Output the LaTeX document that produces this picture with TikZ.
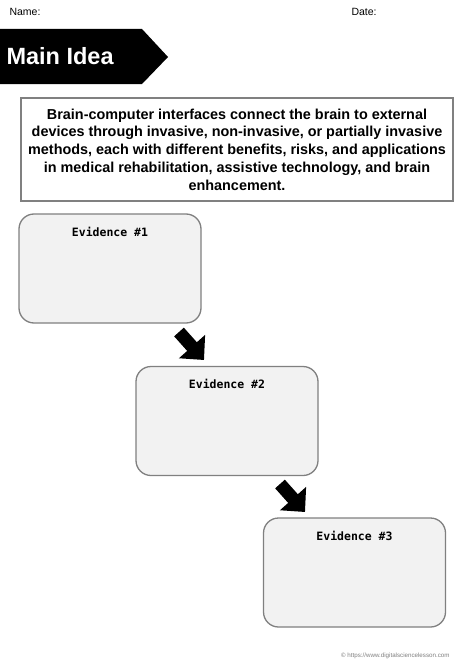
\documentclass[tikz,border=0pt]{standalone}
\usepackage{fontspec}
\setmainfont{Liberation Sans}
\setmonofont{DejaVu Sans Mono}
\usetikzlibrary{positioning,arrows.meta}
\definecolor{boxgray}{HTML}{F2F2F2}
\definecolor{linegray}{HTML}{808080}
\begin{document}
\begin{tikzpicture}[x=1pt,y=-1pt,
		evbox/.style={draw=linegray, line width=1.3pt, fill=boxgray, rounded corners=15pt,
			minimum width=182pt, minimum height=109pt, inner sep=0pt},
		evlabel/.style={font=\ttfamily\bfseries\fontsize{11.5}{13}\selectfont, inner sep=0pt},
		bigarrow/.style={line width=13pt, -{Triangle[length=18pt,width=34pt]}}]
			\useasboundingbox [fill=white] (0,0) rectangle (474,669);
			\node[anchor=west, font=\fontsize{10.5}{12}\selectfont] (name) at (6,12) {Name:};
			\node[anchor=west, font=\fontsize{10.5}{12}\selectfont] (date) at (348,12) {Date:};
			% banner
			\fill [black] (0,29) -- (142,29) -- (168,57) -- (142,84) -- (0,84) -- cycle;
			\node[anchor=west, text=white, font=\bfseries\fontsize{23.5}{28}\selectfont] (title) at (3,56) {Main Idea};
			\node[draw=linegray, line width=1.3pt, minimum width=432pt, minimum height=103pt, align=center,
				font=\bfseries\fontsize{14.4}{17.75}\selectfont] (idea) at (237,149.5)
				{Brain-computer interfaces connect the brain to external\\
				devices through invasive, non-invasive, or partially invasive\\
				methods, each with different benefits, risks, and applications\\
				in medical rehabilitation, assistive technology, and brain\\
				enhancement.};
			\node[evbox] (ev1) at (110,268.5) {};
			\node[evbox] (ev2) at (227,421) {};
			\node[evbox] (ev3) at (354.5,572.5) {};
			\node[evlabel, below=14pt of ev1.north] (lab1) {Evidence \#1};
			\node[evlabel, below=13pt of ev2.north] (lab2) {Evidence \#2};
			\node[evlabel, below=14pt of ev3.north] (lab3) {Evidence \#3};
			\coordinate (a1s) at (179,332);
			\coordinate (a1e) at (204,360);
			\coordinate (a2s) at (280,484);
			\coordinate (a2e) at (305,512);
			\draw [bigarrow] (a1s) -- (a1e);
			\draw [bigarrow] (a2s) -- (a2e);
			\node[anchor=east, text=gray, font=\fontsize{6.2}{7}\selectfont] (copy) at (453,656) {\textcopyright{} https://www.digitalsciencelesson.com};
		\end{tikzpicture}
\end{document}
